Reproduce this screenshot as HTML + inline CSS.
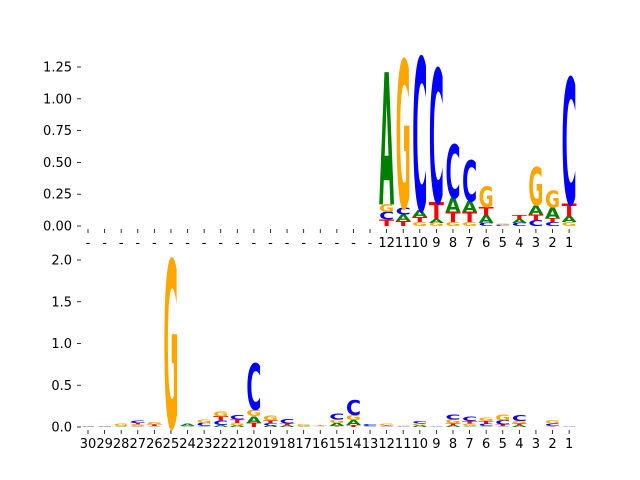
<!DOCTYPE html>
<html><head><meta charset="utf-8"><style>
body{margin:0;background:#fff;width:640px;height:480px;overflow:hidden}
svg{display:block}
text{font-family:"DejaVu Sans","Liberation Sans",sans-serif}
</style></head><body>
<svg id="chart" width="640" height="480" viewBox="0 0 640 480" xmlns="http://www.w3.org/2000/svg"></svg>
<script>
const positions = [30,29,28,27,26,25,24,23,22,21,20,19,18,17,16,15,14,13,12,11,10,9,8,7,6,5,4,3,2,1];
const topLabels = ['-','-','-','-','-','-','-','-','-','-','-','-','-','-','-','-','-','-','12','11','10','9','8','7','6','5','4','3','2','1'];
const topA = [0,0,0,0,0,0,0,0,0,0,0,0,0,0,0,0,0,0,1.04,0.05,0.055,0.03,0.11,0.085,0.06,0,0.03,0.07,0.085,0.045];
const topC = [0,0,0,0,0,0,0,0,0,0,0,0,0,0,0,0,0,0,0.06,0.055,1.2,1.05,0.42,0.32,0.025,0.008,0.025,0.045,0.03,0.99];
const topG = [0,0,0,0,0,0,0,0,0,0,0,0,0,0,0,0,0,0,0.06,1.16,0.03,0.025,0.03,0.03,0.165,0.008,0,0.3,0.13,0.03];
const topT = [0,0,0,0,0,0,0,0,0,0,0,0,0,0,0,0,0,0,0.05,0.04,0.04,0.13,0.08,0.08,0.06,0,0.03,0.045,0.03,0.1];
const topTicks = [0,0.25,0.5,0.75,1.0,1.25];
const topTickLabels = ['0.00','0.25','0.50','0.75','1.00','1.25'];
const botA = [0,0,0.01,0.01,0.01,0,0.03,0.01,0.025,0.02,0.08,0.02,0.02,0.01,0,0.04,0.06,0.01,0,0,0.02,0,0.02,0.01,0.01,0.01,0.02,0,0,0];
const botC = [0.005,0.005,0,0.03,0,0,0.01,0.04,0.05,0.05,0.55,0.03,0.05,0,0,0.07,0.18,0.02,0.01,0.01,0.03,0.01,0.06,0.05,0.03,0.05,0.07,0,0.03,0.01];
const botG = [0.005,0.005,0.03,0.02,0.03,2.0,0,0.04,0.06,0.03,0.08,0.06,0,0.02,0.01,0.04,0.06,0,0.02,0.01,0.02,0,0.05,0.03,0.04,0.07,0.03,0,0.04,0];
const botT = [0,0,0,0.02,0.02,0,0,0,0.05,0.04,0.05,0.03,0.02,0,0.01,0.01,0.025,0,0.01,0,0,0,0.02,0.03,0.03,0.02,0.02,0,0.01,0];
const botTicks = [0,0.5,1.0,1.5,2.0];
const botTickLabels = ['0.0','0.5','1.0','1.5','2.0'];
const colors = {A:'#008000',C:'#0000ff',G:'#ffa500',T:'#ff0000'};

const svg = document.getElementById('chart');
const NS = 'http://www.w3.org/2000/svg';
const xScale = i => 88 + i * 16.59;
function mk(tag, attrs, parent){const e=document.createElementNS(NS,tag);for(const k in attrs)e.setAttribute(k,attrs[k]);(parent||svg).appendChild(e);return e;}

function panel(name, y0, pxPerUnit, A, C, G, T, ticks, tickLabels, xLabels){
  const g = mk('g',{});
  
  
  const yScale = v => y0 - v * pxPerUnit;
  // y ticks
  ticks.forEach((t,k)=>{
    const y = yScale(t);
    const tk = mk('line',{x1:77,x2:81,y1:y,y2:y,stroke:'#000','stroke-width':0.8},g);
    
    
    const lb = mk('text',{x:72,y:y+4.5,'text-anchor':'end','font-size':13,fill:'#000'},g);
    lb.textContent = tickLabels[k];
    
    
  });
  // x ticks
  positions.forEach((p,i)=>{
    const x = xScale(i);
    const tk = mk('line',{x1:x,x2:x,y1:y0+3,y2:y0+7,stroke:'#000','stroke-width':0.8},g);
    
    
    const lb = mk('text',{x:x,y:y0+21,'text-anchor':'middle','font-size':13,fill:'#000'},g);
    lb.textContent = xLabels[i];
    
    
  });
  // letters
  positions.forEach((p,i)=>{
    const items = [['A',A[i]],['C',C[i]],['G',G[i]],['T',T[i]]].filter(d=>d[1]>0).sort((a,b)=>a[1]-b[1]);
    let base = 0;
    const x = xScale(i) - 7.5;
    items.forEach(([L,h])=>{
      const yb = yScale(base);
      const hp = h * pxPerUnit;
      const sy = hp / 72.9;
      const t = mk('text',{x:0,y:0,'font-size':100,'font-weight':'bold',fill:colors[L],textLength:15,lengthAdjust:'spacingAndGlyphs',transform:`translate(${x},${yb}) scale(1,${sy})`},g);
      t.textContent = L;
      
      
      base += h;
    });
  });
}
panel('top-logo-panel', 226, 127.2, topA, topC, topG, topT, topTicks, topTickLabels, topLabels);
panel('bottom-logo-panel', 427, 83.5, botA, botC, botG, botT, botTicks, botTickLabels, positions.map(String));
</script>
</body></html>
